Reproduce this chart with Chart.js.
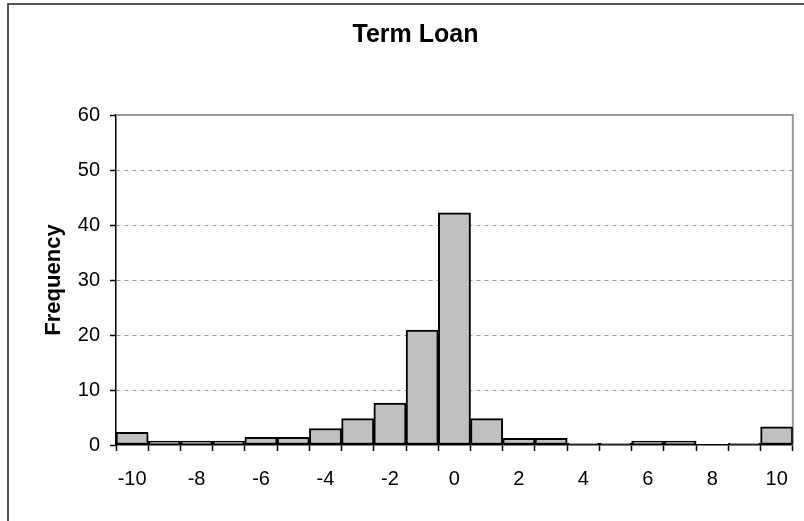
<!DOCTYPE html>
<html>
<head>
<meta charset="utf-8">
<script src="https://cdn.jsdelivr.net/npm/chart.js@4/dist/chart.umd.min.js"></script>
<style>
  html, body { margin: 0; padding: 0; background: #fff; }
  #wrap { position: absolute; left: 0; top: 0; width: 804px; height: 521px; }
</style>
</head>
<body>
<div id="wrap"><canvas id="c" width="804" height="521"></canvas></div>
<script>
const chartTitle = 'Term Loan';
const yAxisTitle = 'Frequency';
const bins = ['-10','-9','-8','-7','-6','-5','-4','-3','-2','-1','0','1','2','3','4','5','6','7','8','9','10'];
const frequency = [2.3, 0.7, 0.7, 0.7, 1.4, 1.4, 3.0, 4.8, 7.6, 20.9, 42.2, 4.8, 1.2, 1.2, 0.3, 0.3, 0.7, 0.7, 0, 0.3, 3.3];
const yMin = 0, yMax = 60, yStep = 10;

const FONT = "'Liberation Sans', Arial, sans-serif";

const framePlugin = {
  id: 'frame',
  beforeDraw(chart) {
    const ctx = chart.ctx;
    ctx.save();
    ctx.fillStyle = '#fff';
    ctx.fillRect(0, 0, chart.width, chart.height);
    ctx.strokeStyle = '#555';
    ctx.lineWidth = 2;
    ctx.beginPath();
    ctx.moveTo(8, chart.height + 2);
    ctx.lineTo(8, 4);
    ctx.lineTo(chart.width + 2, 4);
    ctx.stroke();
    ctx.restore();
  },
  beforeDatasetsDraw(chart) {
    const a = chart.chartArea;
    const ctx = chart.ctx;
    ctx.save();
    ctx.strokeStyle = '#999';
    ctx.lineWidth = 2;
    ctx.beginPath();
    ctx.moveTo(a.left, a.top);
    ctx.lineTo(a.right, a.top);
    ctx.lineTo(a.right, a.bottom);
    ctx.stroke();
    ctx.restore();
  }
};

new Chart(document.getElementById('c'), {
  type: 'bar',
  data: {
    labels: bins,
    datasets: [{
      data: frequency,
      backgroundColor: '#c0c0c0',
      borderColor: '#000',
      borderWidth: 2,
      borderSkipped: false,
      categoryPercentage: 1,
      barPercentage: 1
    }]
  },
  options: {
    responsive: false,
    animation: false,
    layout: { padding: { left: 34, right: 7, top: 0, bottom: 0 } },
    plugins: {
      legend: { display: false },
      tooltip: { enabled: false },
      title: {
        display: true,
        text: chartTitle,
        color: '#000',
        font: { family: FONT, size: 25, weight: 'bold' },
        padding: { top: 20, bottom: 65 }
      }
    },
    scales: {
      x: {
        type: 'category',
        offset: true,
        afterFit(scale) { scale.height = 76; },
        grid: {
          offset: true,
          drawOnChartArea: false,
          drawTicks: true,
          tickLength: 6,
          tickWidth: 1.5,
          color: '#000',
          tickColor: '#000'
        },
        border: { color: '#000', width: 1.5 },
        ticks: {
          autoSkip: false,
          maxRotation: 0,
          minRotation: 0,
          padding: 16,
          color: '#000',
          font: { family: FONT, size: 20 },
          callback(value, index) {
            const v = Number(bins[index]);
            return v % 2 === 0 ? bins[index] : '';
          }
        }
      },
      y: {
        min: yMin,
        max: yMax,
        afterFit(scale) { scale.width = 82; },
        grid: {
          color: (c) => (c.tick && (c.tick.value === yMin || c.tick.value === yMax)) ? 'rgba(0,0,0,0)' : '#9a9a9a',
          lineWidth: 1,
          tickLength: 6,
          tickWidth: 1.5,
          tickColor: '#000',
          tickBorderDash: []
        },
        border: { color: '#000', width: 1.5, dash: [4, 4] },
        ticks: {
          stepSize: yStep,
          padding: 10,
          color: '#000',
          font: { family: FONT, size: 20 }
        },
        title: {
          display: true,
          text: yAxisTitle,
          color: '#000',
          font: { family: FONT, size: 22, weight: 'bold' },
          padding: { top: 7, bottom: 0 }
        }
      }
    }
  },
  plugins: [framePlugin]
});
</script>
</body>
</html>
